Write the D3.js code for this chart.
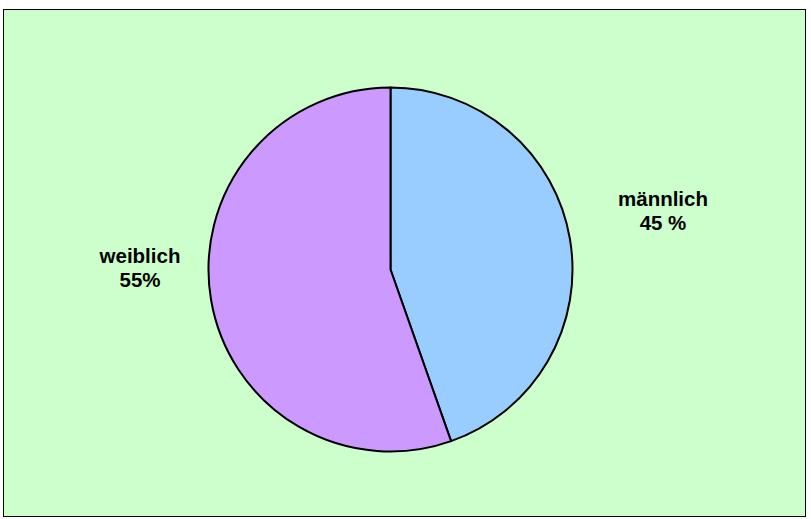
<!DOCTYPE html>
<html>
<head>
<meta charset="utf-8">
<script src="https://cdn.jsdelivr.net/npm/d3@7"></script>
<style>
  body { margin: 0; background: #fff; }
  svg { display: block; }
  text { font-family: "Liberation Sans", Arial, sans-serif; font-weight: bold; font-size: 20.5px; fill: #000; }
</style>
</head>
<body>
<div id="chart"></div>
<script>
const width = 811;
const height = 519;

// data (slice sizes, labels as printed)
const categories = ["männlich", "weiblich"];
const values = [44.6, 55.4];
const valueLabels = ["45 %", "55%"];
const colors = ["#99CCFF", "#CC99FF"];

const svg = d3.select("div#chart").append("svg")
    .attr("width", width)
    .attr("height", height);

// chart area
svg.append("rect")
    .attr("x", 3.5)
    .attr("y", 9.5)
    .attr("width", 802)
    .attr("height", 507)
    .attr("fill", "#CCFFCC")
    .attr("stroke", "#000")
    .attr("stroke-width", 1);

const cx = 390.5, cy = 269.5, r = 182;

const pie = d3.pie().sort(null).value(d => d);
const arc = d3.arc().innerRadius(0).outerRadius(r);

const arcs = pie(values);

const g = svg.append("g").attr("transform", `translate(${cx},${cy})`);

g.selectAll("path")
    .data(arcs)
    .join("path")
    .attr("d", arc)
    .attr("fill", (d, i) => colors[i])
    .attr("stroke", "#000")
    .attr("stroke-width", 2)
    .attr("stroke-linejoin", "round");

// labels outside the pie (first-line baseline)
const labelPos = [[663, 206], [140, 263]];

const labels = svg.selectAll("text.lbl")
    .data(arcs)
    .join("text")
    .attr("class", "lbl")
    .attr("text-anchor", "middle")
    .attr("x", (d, i) => labelPos[i][0])
    .attr("y", (d, i) => labelPos[i][1]);

labels.append("tspan")
    .attr("x", (d, i) => labelPos[i][0])
    .text((d, i) => categories[i]);

labels.append("tspan")
    .attr("x", (d, i) => labelPos[i][0])
    .attr("dy", 24)
    .text((d, i) => valueLabels[i]);
</script>
</body>
</html>
